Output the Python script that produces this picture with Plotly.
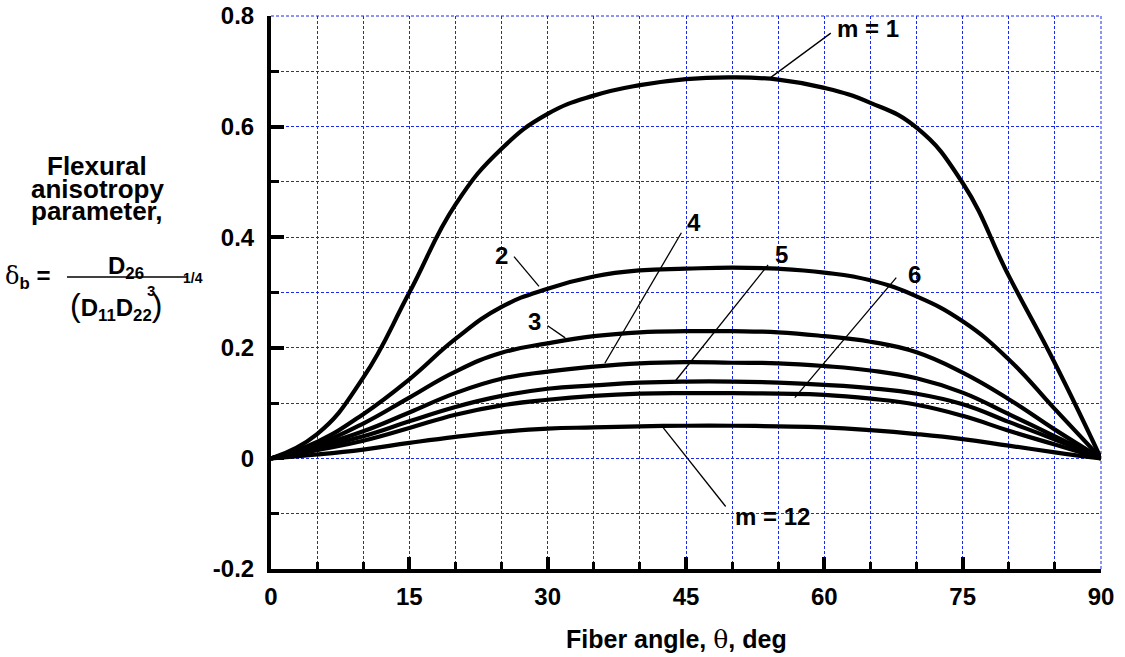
import plotly.graph_objects as go

# fiber angle, deg
theta = [0, 5, 10, 15, 20, 25, 30, 35, 40, 45, 50, 55, 60, 65, 70, 75, 80, 85, 90]

# flexural anisotropy parameter for m = 1..6 and 12
delta_m1 = [0, 0.044, 0.146, 0.300, 0.459, 0.560, 0.623, 0.656, 0.675, 0.686, 0.689, 0.685, 0.670, 0.643, 0.598, 0.498, 0.330, 0.172, 0]
delta_m2 = [0, 0.030, 0.080, 0.143, 0.216, 0.274, 0.307, 0.329, 0.340, 0.343, 0.345, 0.343, 0.336, 0.322, 0.293, 0.248, 0.179, 0.089, 0]
delta_m3 = [0, 0.025, 0.063, 0.110, 0.157, 0.191, 0.208, 0.221, 0.228, 0.230, 0.230, 0.228, 0.221, 0.211, 0.192, 0.155, 0.107, 0.052, 0]
delta_m4 = [0, 0.022, 0.049, 0.083, 0.118, 0.144, 0.157, 0.166, 0.172, 0.174, 0.173, 0.172, 0.167, 0.159, 0.145, 0.119, 0.080, 0.040, 0]
delta_m5 = [0, 0.019, 0.040, 0.067, 0.093, 0.113, 0.126, 0.132, 0.137, 0.139, 0.139, 0.137, 0.133, 0.127, 0.117, 0.098, 0.066, 0.034, 0]
delta_m6 = [0, 0.015, 0.032, 0.055, 0.079, 0.096, 0.106, 0.113, 0.117, 0.118, 0.118, 0.117, 0.115, 0.108, 0.097, 0.077, 0.050, 0.025, 0]
delta_m12 = [0, 0.007, 0.016, 0.028, 0.039, 0.048, 0.054, 0.056, 0.058, 0.059, 0.059, 0.058, 0.056, 0.051, 0.044, 0.035, 0.023, 0.011, 0]

series = [delta_m1, delta_m2, delta_m3, delta_m4, delta_m5, delta_m6, delta_m12]

# curve labels: text, text position, leader tail, leader head (data units)
labels = ["m = 1", "2", "3", "4", "5", "6", "m = 12"]
label_x = [64.7, 25.0, 28.6, 45.9, 55.4, 69.8, 54.4]
label_y = [0.777, 0.367, 0.247, 0.426, 0.368, 0.332, -0.105]
lead_x0 = [60.7, 26.35, 30.0, 44.5, 53.9, 67.8, 49.3]
lead_y0 = [0.769, 0.365, 0.240, 0.408, 0.350, 0.327, -0.087]
lead_x1 = [54.2, 29.06, 31.9, 36.2, 43.8, 56.8, 42.5]
lead_y1 = [0.689, 0.311, 0.218, 0.172, 0.139, 0.110, 0.056]

x_ticks = [0, 15, 30, 45, 60, 75, 90]
y_ticks = [-0.2, 0, 0.2, 0.4, 0.6, 0.8]
y_ticktext = ["-0.2", "0", "0.2", "0.4", "0.6", "0.8"]

FONT = "Liberation Sans, Arial, Helvetica, sans-serif"
GRID = "rgb(25,40,235)"
DASH = "3px,2px"

fig = go.Figure()

for vals in series:
    fig.add_trace(go.Scatter(
        x=theta, y=vals, mode="lines",
        line=dict(color="black", width=4.2, shape="spline", smoothing=1.3),
        hoverinfo="skip", showlegend=False,
    ))

for i, txt in enumerate(labels):
    fig.add_shape(type="line", xref="x", yref="y",
                  x0=lead_x0[i], y0=lead_y0[i], x1=lead_x1[i], y1=lead_y1[i],
                  line=dict(color="black", width=1.3))
    fig.add_annotation(x=label_x[i], y=label_y[i], xref="x", yref="y",
                       text="<b>%s</b>" % txt, showarrow=False,
                       font=dict(size=24, color="black", family=FONT))

# plotly drops the grid lines lying on the plot edges; draw the top/right ones
fig.add_shape(type="line", xref="paper", yref="paper", x0=0, x1=1, y0=1, y1=1,
              line=dict(color=GRID, width=1, dash=DASH), layer="below")
fig.add_shape(type="line", xref="paper", yref="paper", x0=1, x1=1, y0=0, y1=1,
              line=dict(color=GRID, width=1, dash=DASH), layer="below")

# plot box in window pixels
X0, X1, Y0, Y1 = 271, 1101, 16, 569


def px(x):
    return (x - X0) / (X1 - X0)


def py(y):
    return (Y1 - y) / (Y1 - Y0)


for txt, yy in [("Flexural", 166), ("anisotropy", 189), ("parameter,", 211)]:
    fig.add_annotation(x=px(97), y=py(yy), xref="paper", yref="paper",
                       text="<b>%s</b>" % txt, showarrow=False,
                       xanchor="center", yanchor="middle",
                       font=dict(size=26, color="black", family=FONT))

serif = "<span style='font-family:DejaVu Serif;font-weight:normal'>%s</span>"
fig.add_annotation(x=px(3), y=py(277), xref="paper", yref="paper",
                   text=serif % "δ" + "<b><sub>b</sub> =</b>", showarrow=False,
                   xanchor="left", yanchor="middle",
                   font=dict(size=24, color="black", family=FONT))
fig.add_shape(type="line", xref="paper", yref="paper",
              x0=px(67), x1=px(187), y0=py(277), y1=py(277),
              line=dict(color="black", width=1.3))
fig.add_annotation(x=px(126), y=py(267), xref="paper", yref="paper",
                   text="<b>D<sub>26</sub></b>", showarrow=False,
                   xanchor="center", yanchor="middle",
                   font=dict(size=24, color="black", family=FONT))
fig.add_annotation(x=px(116), y=py(306), xref="paper", yref="paper",
                   text="<span style='font-weight:normal;font-size:32px'>(</span>"
                        "<b>D<sub>11</sub>D<sub>22</sub></b>"
                        "<span style='font-weight:normal;font-size:32px'>)</span>",
                   showarrow=False, xanchor="center", yanchor="middle",
                   font=dict(size=24, color="black", family=FONT))
fig.add_annotation(x=px(145), y=py(290), xref="paper", yref="paper",
                   text="<b>3</b>", showarrow=False,
                   font=dict(size=15, color="black", family=FONT))
fig.add_annotation(x=px(181), y=py(278), xref="paper", yref="paper",
                   text="<b>1/4</b>", showarrow=False,
                   font=dict(size=14, color="black", family=FONT))

# x axis caption
fig.add_annotation(x=px(676), y=py(639), xref="paper", yref="paper",
                   text="<b>Fiber angle, </b>" + serif % "θ" + "<b>, deg</b>",
                   showarrow=False, xanchor="center", yanchor="middle",
                   font=dict(size=25, color="black", family=FONT))

axis_common = dict(
    showline=True, linecolor="black", linewidth=4, mirror=False,
    ticks="inside", tickcolor="black", tickwidth=4,
    showgrid=True, gridcolor=GRID, gridwidth=1, griddash=DASH,
    zeroline=False, automargin=False, ticklabeloverflow="allow",
    tickfont=dict(size=24, color="black", family=FONT, weight="bold"),
)

fig.update_xaxes(
    range=[0, 90], tickvals=x_ticks, ticklen=12, ticklabelstandoff=3,
    minor=dict(dtick=5, ticks="inside", ticklen=7, tickwidth=3, tickcolor="black",
               showgrid=True, gridcolor=GRID, gridwidth=1, griddash=DASH),
    **axis_common,
)
fig.update_yaxes(
    range=[-0.2, 0.8], tickvals=y_ticks, ticktext=y_ticktext, ticklen=13,
    ticklabelstandoff=8,
    minor=dict(dtick=0.1, ticks="inside", ticklen=8, tickwidth=3, tickcolor="black",
               showgrid=True, gridcolor=GRID, gridwidth=1, griddash=DASH),
    **axis_common,
)

fig.update_layout(
    width=1125, height=657,
    margin=dict(l=X0, r=1125 - X1, t=Y0, b=657 - Y1),
    plot_bgcolor="white", paper_bgcolor="white",
    showlegend=False,
)

# drop the default 8px page margin so the figure fills the window
fig.write_html("out.html", config={"displayModeBar": False},
               post_script="document.body.style.margin='0';")
